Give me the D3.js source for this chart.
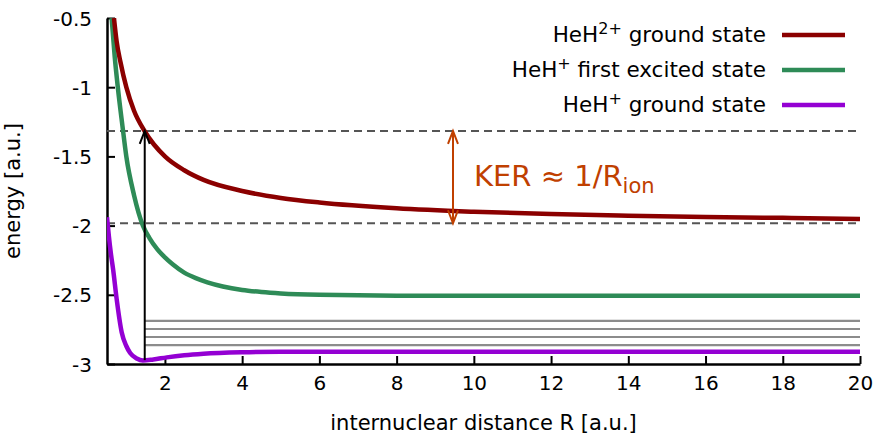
<!DOCTYPE html>
<html>
<head>
<meta charset="utf-8">
<script src="https://cdn.jsdelivr.net/npm/d3@7"></script>
<style>
  body { margin: 0; background: #fff; }
  svg { font-family: 'DejaVu Sans', sans-serif; }
  .tick text { font-size: 20px; fill: #000; }
  .axis-label { font-size: 21px; fill: #000; }
</style>
</head>
<body>
<svg width="879" height="437"></svg>
<script>
// HeH2+ ground state
const dicationR = [0.68, 0.75, 0.85, 1.0, 1.2, 1.48, 2, 2.5, 3, 4, 5, 6, 8, 10, 12, 14, 16, 18, 20];
const dicationE = [-0.5, -0.67, -0.82, -1.0, -1.17, -1.32, -1.5, -1.6, -1.67, -1.75, -1.8, -1.833, -1.875, -1.9, -1.917, -1.929, -1.938, -1.944, -1.952];

// HeH+ first excited state
const excitedR = [0.62, 0.7, 0.78, 0.9, 1.0, 1.2, 1.43, 1.6, 1.8, 2.0, 2.2, 2.5, 2.8, 3.1, 3.5, 4.0, 4.5, 5, 6, 8, 12, 16, 20];
const excitedE = [-0.5, -0.78, -1.0, -1.28, -1.5, -1.78, -2.0, -2.09, -2.17, -2.23, -2.28, -2.34, -2.38, -2.41, -2.44, -2.465, -2.48, -2.49, -2.5, -2.506, -2.506, -2.506, -2.506];

// HeH+ ground state
const groundR = [0.5, 0.55, 0.6, 0.66, 0.75, 0.88, 1.0, 1.1, 1.27, 1.43, 1.7, 2.05, 2.5, 3, 4, 5, 6, 8, 12, 16, 20];
const groundE = [-1.94, -2.08, -2.2, -2.32, -2.53, -2.77, -2.87, -2.92, -2.96, -2.975, -2.967, -2.952, -2.937, -2.926, -2.915, -2.911, -2.911, -2.911, -2.911, -2.911, -2.911];

// vibrational levels, dashed reference levels, arrows
const vibLevels = [-2.689, -2.747, -2.805, -2.863];
const dashLevels = [-1.316, -1.983];
const ionR = 1.477;
const ionArrow = [-2.972, -1.316];
const kerR = 9.46;

const xTicks = [2, 4, 6, 8, 10, 12, 14, 16, 18, 20];
const yTicks = [-0.5, -1, -1.5, -2, -2.5, -3];

const seriesNames = ['ground state', 'first excited state', 'ground state'];
const seriesSup = ['2+', '+', '+'];
const seriesColors = ['#8b0000', '#2e8b57', '#9400d3'];

const svg = d3.select('svg');
const width = +svg.attr('width');
const height = +svg.attr('height');
const margin = { top: 18, right: 19, bottom: 73, left: 107 };
const innerWidth = width - margin.left - margin.right;
const innerHeight = height - margin.top - margin.bottom;

const xScale = d3.scaleLinear().domain([0.5, 20]).range([0, innerWidth]);
const yScale = d3.scaleLinear().domain([-3, -0.5]).range([innerHeight, 0]);

const g = svg.append('g')
  .attr('transform', `translate(${margin.left},${margin.top})`);

svg.append('defs').append('clipPath').attr('id', 'clip')
  .append('rect').attr('width', innerWidth).attr('height', innerHeight);

// axes
const xAxisG = g.append('g')
  .attr('transform', `translate(0,${innerHeight})`)
  .call(d3.axisBottom(xScale).tickValues(xTicks).tickSizeInner(-8).tickSizeOuter(0).tickPadding(12));
const yAxisG = g.append('g')
  .call(d3.axisLeft(yScale).tickValues(yTicks).tickFormat(d => String(d)).tickSizeInner(-8).tickSizeOuter(0).tickPadding(15));

[xAxisG, yAxisG].forEach(a => {
  a.attr('font-family', null).attr('font-size', null);
  a.selectAll('.domain').attr('stroke', '#000').attr('stroke-width', 2.5);
  a.selectAll('.tick line').attr('stroke', '#000').attr('stroke-width', 2);
});
yAxisG.selectAll('.tick text').attr('dy', '0.35em');

g.append('text')
  .attr('class', 'axis-label')
  .attr('x', innerWidth / 2)
  .attr('y', innerHeight + 66)
  .attr('text-anchor', 'middle')
  .text('internuclear distance R [a.u.]');

g.append('text')
  .attr('class', 'axis-label')
  .attr('transform', `translate(${-87},${innerHeight / 2}) rotate(-90)`)
  .attr('text-anchor', 'middle')
  .text('energy [a.u.]');

const plot = g.append('g').attr('clip-path', 'url(#clip)');

// dashed levels
plot.selectAll('.dash').data(dashLevels).enter().append('line')
  .attr('x1', 0).attr('x2', innerWidth)
  .attr('y1', d => yScale(d)).attr('y2', d => yScale(d))
  .attr('stroke', '#555').attr('stroke-width', 2)
  .attr('stroke-dasharray', '8,5');

// vibrational levels
plot.selectAll('.vib').data(vibLevels).enter().append('line')
  .attr('x1', xScale(ionR)).attr('x2', innerWidth)
  .attr('y1', d => yScale(d)).attr('y2', d => yScale(d))
  .attr('stroke', '#8c8c8c').attr('stroke-width', 2.2);

// curves
const line = d3.line()
  .x(d => xScale(d[0]))
  .y(d => yScale(d[1]))
  .curve(d3.curveMonotoneX);

const curves = [
  d3.zip(groundR, groundE),
  d3.zip(excitedR, excitedE),
  d3.zip(dicationR, dicationE)
];
const curveColors = [seriesColors[2], seriesColors[1], seriesColors[0]];

plot.selectAll('.curve').data(curves).enter().append('path')
  .attr('d', line)
  .attr('fill', 'none')
  .attr('stroke', (d, i) => curveColors[i])
  .attr('stroke-width', 4.5)
  .attr('stroke-linejoin', 'round');

// arrows
const arrowHead = (x, y, dir) => {
  const len = 13, half = 5;
  return `M${x - half},${y + dir * len}L${x},${y}L${x + half},${y + dir * len}`;
};

const ax = xScale(ionR);
g.append('line')
  .attr('x1', ax).attr('x2', ax)
  .attr('y1', yScale(ionArrow[0])).attr('y2', yScale(ionArrow[1]))
  .attr('stroke', '#000').attr('stroke-width', 2);
g.append('path')
  .attr('d', arrowHead(ax, yScale(ionArrow[1]), 1))
  .attr('fill', 'none').attr('stroke', '#000').attr('stroke-width', 2);

const kx = xScale(kerR);
const kerColor = '#c04000';
g.append('line')
  .attr('x1', kx).attr('x2', kx)
  .attr('y1', yScale(dashLevels[0])).attr('y2', yScale(dashLevels[1]))
  .attr('stroke', kerColor).attr('stroke-width', 2);
g.append('path')
  .attr('d', arrowHead(kx, yScale(dashLevels[0]), 1) + arrowHead(kx, yScale(dashLevels[1]), -1))
  .attr('fill', 'none').attr('stroke', kerColor).attr('stroke-width', 2);

const ker = g.append('text')
  .attr('x', kx + 21)
  .attr('y', yScale(dashLevels[0]) + 55)
  .attr('fill', kerColor)
  .attr('font-size', 29);
ker.append('tspan').text('KER \u2248 1/R');
ker.append('tspan').attr('font-size', 21).attr('dy', 7).text('ion');

// legend
const legend = g.append('g');
seriesNames.forEach((name, i) => {
  const y = 17 + i * 35;
  const t = legend.append('text')
    .attr('x', 659)
    .attr('y', y + 7)
    .attr('text-anchor', 'end')
    .attr('font-size', 21.5)
    .attr('fill', '#000');
  t.append('tspan').text('HeH');
  t.append('tspan').attr('font-size', 16).attr('dy', -8).text(seriesSup[i]);
  t.append('tspan').attr('dy', 8).text(' ' + name);
  legend.append('line')
    .attr('x1', 675).attr('x2', 738)
    .attr('y1', y).attr('y2', y)
    .attr('stroke', seriesColors[i])
    .attr('stroke-width', 4.5);
});
</script>
</body>
</html>
